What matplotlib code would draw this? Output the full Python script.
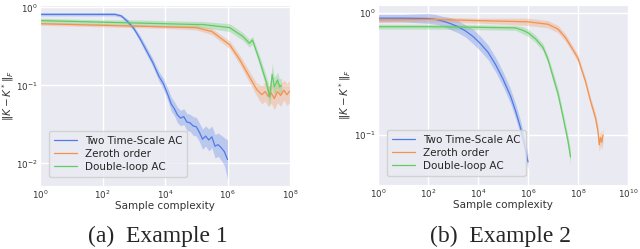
import matplotlib
matplotlib.use("Agg")
import matplotlib.pyplot as plt
import seaborn as sns
import numpy as np

sns.set_style("darkgrid")

# colours (close to seaborn muted)
BLUE = "#4f7ae8"
ORANGE = "#f2924f"
GREEN = "#62cc62"

LABELS = ["Two Time-Scale AC", "Zeroth order", "Double-loop AC"]

##### EXAMPLE 1 (log10 sample complexity, log10 error, band half-width in log10)
ex1_blue_x = [0, 1, 2, 2.4, 2.6, 2.8, 3.0, 3.2, 3.4, 3.6, 3.8, 3.95, 4.1, 4.2, 4.3, 4.4, 4.5,
              4.6, 4.7, 4.8, 4.9, 5.0, 5.1, 5.2, 5.3, 5.4, 5.5, 5.6, 5.7, 5.8, 5.9, 6.0]
ex1_blue_y = [-0.09, -0.09, -0.09, -0.09, -0.11, -0.18, -0.27, -0.40, -0.55, -0.70, -0.88, -0.98,
              -1.13, -1.24, -1.30, -1.38, -1.42, -1.40, -1.47, -1.48, -1.52, -1.53, -1.60, -1.69,
              -1.65, -1.70, -1.66, -1.78, -1.76, -1.80, -1.85, -1.95]
ex1_blue_w = [0.02, 0.02, 0.02, 0.02, 0.02, 0.03, 0.03, 0.04, 0.05, 0.05, 0.06, 0.07,
              0.08, 0.09, 0.09, 0.10, 0.10, 0.10, 0.11, 0.11, 0.12, 0.12, 0.12, 0.13,
              0.13, 0.14, 0.14, 0.15, 0.15, 0.16, 0.18, 0.25]

ex1_orange_x = [0, 1, 2, 3, 4, 5, 5.5, 6.07, 6.39, 6.7, 6.93, 7.0, 7.1, 7.2,
                7.3, 7.4, 7.5, 7.6, 7.7, 7.8, 7.9, 8.0]
ex1_orange_y = [-0.21, -0.22, -0.23, -0.24, -0.25, -0.26, -0.31, -0.48, -0.67, -0.89, -1.05,
                -1.08, -1.12, -1.08, -1.14, -1.10, -1.17, -1.08, -1.13, -1.06, -1.12, -1.07]
ex1_orange_w = [0.02, 0.02, 0.02, 0.02, 0.02, 0.03, 0.04, 0.05, 0.06, 0.07, 0.08,
                0.10, 0.12, 0.12, 0.13, 0.13, 0.14, 0.14, 0.14, 0.13, 0.14, 0.14]

ex1_green_x = [0, 1, 2, 3, 4, 5, 5.2, 6.07, 6.48, 6.7, 6.8, 7.0, 7.25, 7.35,
               7.43, 7.5, 7.6, 7.67, 7.73]
ex1_green_y = [-0.17, -0.18, -0.19, -0.20, -0.21, -0.22, -0.22, -0.26, -0.37, -0.46, -0.42,
               -0.65, -0.97, -1.15, -0.86, -1.02, -0.93, -1.02, -1.00]
ex1_green_w = [0.03, 0.03, 0.03, 0.04, 0.04, 0.04, 0.04, 0.05, 0.05, 0.05, 0.05,
               0.06, 0.08, 0.12, 0.14, 0.12, 0.10, 0.10, 0.10]

##### EXAMPLE 2
ex2_blue_x = [0, 1, 2, 2.3, 2.6, 2.9, 3.2, 3.5, 3.8, 4.1, 4.4, 4.7, 5.0, 5.3, 5.5, 5.7, 5.85, 6.0]
ex2_blue_y = [-0.04, -0.04, -0.043, -0.05, -0.065, -0.085, -0.11, -0.145, -0.19, -0.25, -0.32,
              -0.42, -0.54, -0.68, -0.80, -0.94, -1.07, -1.22]
ex2_blue_w = [0.03, 0.03, 0.04, 0.04, 0.04, 0.05, 0.05, 0.05, 0.06, 0.06, 0.06, 0.06,
              0.06, 0.06, 0.06, 0.06, 0.06, 0.06]

ex2_orange_x = [0, 2, 4, 6, 6.8, 7.2, 7.5, 7.8, 8.0, 8.3, 8.5, 8.7, 8.8, 8.85, 8.9, 8.95, 9.0]
ex2_orange_y = [-0.055, -0.05, -0.06, -0.07, -0.09, -0.13, -0.20, -0.30, -0.37, -0.56, -0.72,
                -0.86, -0.97, -1.08, -1.02, -1.06, -1.00]
ex2_orange_w = [0.02, 0.02, 0.02, 0.03, 0.03, 0.03, 0.03, 0.03, 0.03, 0.03, 0.03,
                0.04, 0.05, 0.06, 0.06, 0.06, 0.06]

ex2_green_x = [0, 2, 4, 5.5, 5.8, 6.0, 6.3, 6.6, 6.8, 7.0, 7.2, 7.4, 7.6, 7.7]
ex2_green_y = [-0.11, -0.11, -0.115, -0.12, -0.14, -0.16, -0.21, -0.28, -0.38, -0.52, -0.66,
               -0.85, -1.05, -1.18]
ex2_green_w = [0.02, 0.02, 0.02, 0.02, 0.03, 0.03, 0.03, 0.03, 0.03, 0.04, 0.04, 0.04, 0.05, 0.06]

font_size = 7.5


def draw(ax, series, xmax, ylim, label_x):
	for (x, y, w), colour, label in zip(series, [BLUE, ORANGE, GREEN], LABELS):
		x = 10.0 ** np.array(x)
		y = np.array(y)
		w = np.array(w)
		ax.fill_between(x, 10.0 ** (y - w), 10.0 ** (y + w), color = colour, alpha = 0.3, lw = 0)
		ax.plot(x, 10.0 ** y, color = colour, lw = 0.9, label = label)
	ax.set_xscale("log")
	ax.set_yscale("log")
	ax.set_xlim(1, 10.0 ** xmax)
	ax.set_ylim(10.0 ** ylim[0], 10.0 ** ylim[1])
	ax.set_xticks([10.0 ** k for k in range(0, xmax + 1, 2)])
	ax.minorticks_off()
	ax.grid(True, which = "major", color = "white", lw = 1.0)
	ax.tick_params(labelsize = 6.3, length = 0, pad = 2, colors = "#333333")
	ax.set_xlabel("Sample complexity", fontsize = font_size, labelpad = 0, color = "#333333")
	ax.set_ylabel(r"$\|K-K^*\|_F$", fontsize = font_size, color = "#333333")
	ax.yaxis.set_label_coords(label_x, 0.5)
	ax.legend(loc = "lower left", fontsize = font_size, handlelength = 2.2, borderpad = 0.45,
			  labelspacing = 0.3, borderaxespad = 0.9, frameon = True)


fig = plt.figure(figsize = (6.4, 2.49), dpi = 100)

ax1 = fig.add_axes([40 / 640, 1 - 186 / 249, 250 / 640, 181 / 249])
draw(ax1, [(ex1_blue_x, ex1_blue_y, ex1_blue_w),
		   (ex1_orange_x, ex1_orange_y, ex1_orange_w),
		   (ex1_green_x, ex1_green_y, ex1_green_w)], 8, (-2.29, 0.03), -0.095)
ax1.set_yticks([1e-2, 1e-1, 1e0])

ax2 = fig.add_axes([378 / 640, 1 - 185 / 249, 250 / 640, 180 / 249])
draw(ax2, [(ex2_blue_x, ex2_blue_y, ex2_blue_w),
		   (ex2_orange_x, ex2_orange_y, ex2_orange_w),
		   (ex2_green_x, ex2_green_y, ex2_green_w)], 10, (-1.41, 0.068), -0.1)
ax2.set_yticks([1e-1, 1e0])

fig.text(158 / 640, 1 - 236 / 249, "(a)  Example 1", fontsize = 17, family = "Liberation Serif",
		 ha = "center", va = "center")
fig.text(500 / 640, 1 - 236 / 249, "(b)  Example 2", fontsize = 17, family = "Liberation Serif",
		 ha = "center", va = "center")

fig.savefig("out.png", dpi = 100)
